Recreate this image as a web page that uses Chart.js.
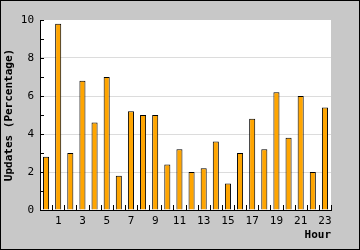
<!DOCTYPE html>
<html>
<head>
<meta charset="utf-8">
<script src="https://cdn.jsdelivr.net/npm/chart.js"></script>
<style>
  html, body { margin: 0; padding: 0; background: #c8c8c8; }
  canvas { display: block; }
</style>
</head>
<body>
<canvas id="mycanvas" width="360" height="250"></canvas>
<script>
// hours 0..23
var hours = [];
for (var h = 0; h < 24; h++) hours.push(String(h));

var updates = [2.8, 9.8, 3.0, 6.8, 4.6, 7.0, 1.8, 5.2, 5.0, 5.0, 2.4, 3.2,
               2.0, 2.2, 3.6, 1.4, 3.0, 4.8, 3.2, 6.2, 3.8, 6.0, 2.0, 5.4];

var yTicks = [0, 2, 4, 6, 8, 10];

var monoFont = "'DejaVu Sans Mono', monospace";

// grey frame, white plot area, black outline
var frame = {
	id: 'frame',
	beforeDraw: function(chart) {
		var c = chart.ctx, a = chart.chartArea;
		c.save();
		c.fillStyle = '#c8c8c8';
		c.fillRect(0, 0, chart.width, chart.height);
		c.fillStyle = '#ffffff';
		c.fillRect(a.left, a.top, a.right - a.left, a.bottom - a.top);
		c.strokeStyle = '#000';
		c.lineWidth = 1;
		c.strokeRect(0.5, 0.5, chart.width - 1, chart.height - 1);
		c.restore();
	}
};

// tick marks pointing into the plot
var innerTicks = {
	id: 'innerTicks',
	afterDatasetsDraw: function(chart) {
		var c = chart.ctx, x = chart.scales.x, y = chart.scales.y;
		c.save();
		c.strokeStyle = '#000';
		c.lineWidth = 1;
		c.beginPath();
		for (var v = 0; v <= 10; v++) {
			var py = Math.round(y.getPixelForValue(v)) + 0.5;
			c.moveTo(x.left, py);
			c.lineTo(x.left + 4, py);
		}
		for (var i = 0; i <= hours.length; i++) {
			var px = Math.round(x.getPixelForValue(i - 0.5)) + 0.5;
			c.moveTo(px, y.bottom);
			c.lineTo(px, y.bottom - 5);
		}
		c.stroke();
		c.restore();
	}
};

var chartdata = {
	labels: hours,
	datasets: [{
		label: 'Updates',
		backgroundColor: '#ffa500',
		borderColor: '#000000',
		borderWidth: 1,
		barPercentage: 0.5,
		categoryPercentage: 1.0,
		data: updates
	}]
};

new Chart(document.getElementById('mycanvas'), {
	type: 'bar',
	data: chartdata,
	plugins: [frame, innerTicks],
	options: {
		responsive: false,
		animation: false,
		devicePixelRatio: 1,
		layout: { padding: { top: 20, right: 29, left: 0, bottom: 0 } },
		plugins: { legend: { display: false }, tooltip: { enabled: false } },
		scales: {
			x: {
				grid: { display: false, drawTicks: false, tickLength: 0 },
				border: { display: true, color: '#000', width: 1 },
				ticks: {
					color: '#000',
					font: { family: monoFont, size: 11 },
					padding: 5,
					autoSkip: false,
					maxRotation: 0,
					callback: function(val, idx) { return idx % 2 === 1 ? hours[idx] : ''; }
				},
				title: {
					display: true,
					text: 'Hour',
					align: 'end',
					color: '#000',
					font: { family: monoFont, size: 11, weight: 'bold' },
					padding: { top: 0, bottom: 8 }
				},
				afterFit: function(s) { s.height = 40; }
			},
			y: {
				min: 0,
				max: 10,
				grid: {
					drawTicks: false,
					color: function(ctx) {
						var v = ctx.tick ? ctx.tick.value : -1;
						return (v > 0 && v < 10 && v % 2 === 0) ? '#dcdcdc' : 'rgba(0,0,0,0)';
					}
				},
				border: { display: true, color: '#000', width: 1 },
				ticks: {
					stepSize: 1,
					color: '#000',
					padding: 6,
					font: { family: monoFont, size: 11 },
					callback: function(v) { return yTicks.indexOf(v) >= 0 ? v : ''; }
				},
				title: {
					display: true,
					text: 'Updates (Percentage)',
					color: '#000',
					font: { family: monoFont, size: 11, weight: 'bold' },
					padding: { top: 3, bottom: 0 }
				},
				afterFit: function(s) { s.width = 40; }
			}
		}
	}
});
</script>
</body>
</html>
